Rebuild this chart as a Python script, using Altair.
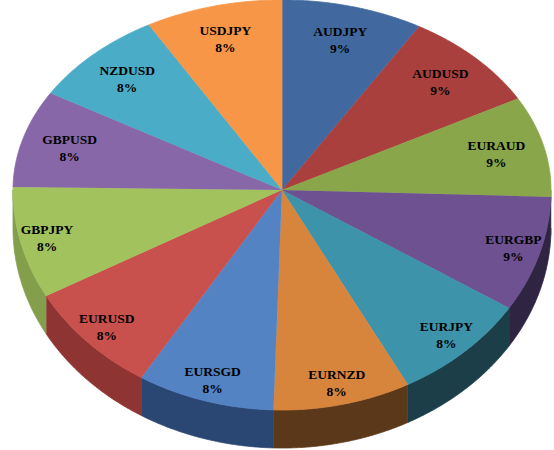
import altair as alt
import pandas as pd

# ---- data ----
pairs = ["AUDJPY", "AUDUSD", "EURAUD", "EURGBP", "EURJPY", "EURNZD",
         "EURSGD", "EURUSD", "GBPJPY", "GBPUSD", "NZDUSD", "USDJPY"]
shares = [8.5, 8.5, 8.5, 8.5, 8.25, 8.25, 8.25, 8.25, 8.25, 8.25, 8.25, 8.25]

top_colors = ["#41689F", "#A9403E", "#89A64A", "#6D5190", "#3C93AA", "#D7853D",
              "#5483C4", "#C8504D", "#A2C25E", "#8767A8", "#4AACC6", "#F79646"]
side_colors = ["#1E3350", "#5A2221", "#45552A", "#2F2442", "#1C3E48", "#5B3819",
               "#2A4672", "#8E3432", "#839F4B", "#6A5187", "#3A8BA0", "#C9763A"]

df = pd.DataFrame({"pair": pairs, "share": shares, "idx": list(range(len(pairs)))})

N = 96          # outline resolution
K_LOW = 1.158   # perspective: front half of the disc is taller
DEPTH = 0.2     # thickness of the disc

xs = alt.Scale(domain=[-1.0483, 1.0112], nice=False, zero=False)
ys = alt.Scale(domain=[-1.3684, 1.0], nice=False, zero=False)

base = alt.Chart(df).transform_joinaggregate(
    total="sum(share)"
).transform_window(
    cum="sum(share)", sort=[alt.SortField("idx", order="ascending")], frame=[None, 0]
).transform_calculate(
    a0="2*PI*(datum.cum - datum.share)/datum.total",
    a1="2*PI*datum.cum/datum.total",
)

# side walls (front half only)
side = base.transform_filter(
    "datum.a1 > PI/2 && datum.a0 < 3*PI/2"
).transform_calculate(
    s0="max(datum.a0, PI/2)",
    s1="min(datum.a1, 3*PI/2)",
    k=f"sequence(0, {2 * N + 2})",
).transform_flatten(["k"]).transform_calculate(
    j=f"datum.k <= {N} ? datum.k : {2 * N + 1} - datum.k"
).transform_calculate(
    a=f"datum.s0 + (datum.s1 - datum.s0) * datum.j / {N}"
).transform_calculate(
    u="sin(datum.a)",
    v=f"{K_LOW}*cos(datum.a) - (datum.k > {N} ? {DEPTH} : 0)",
).mark_line(filled=True, strokeWidth=0.8, interpolate="linear").encode(
    x=alt.X("u:Q", scale=xs, axis=None),
    y=alt.Y("v:Q", scale=ys, axis=None),
    color=alt.Color("pair:N", scale=alt.Scale(domain=pairs, range=side_colors), legend=None),
    stroke=alt.Stroke("pair:N", scale=alt.Scale(domain=pairs, range=side_colors), legend=None),
    order=alt.Order("k:Q"),
)

# top faces
top = base.transform_calculate(
    k=f"sequence(0, {N + 2})"
).transform_flatten(["k"]).transform_calculate(
    a=f"datum.a0 + (datum.a1 - datum.a0) * min(datum.k, {N}) / {N}"
).transform_calculate(
    u=f"datum.k > {N} ? 0 : sin(datum.a)",
    v=f"datum.k > {N} ? 0 : (cos(datum.a) > 0 ? cos(datum.a) : {K_LOW} * cos(datum.a))",
).mark_line(filled=True, strokeWidth=0.8, interpolate="linear").encode(
    x=alt.X("u:Q", scale=xs, axis=None),
    y=alt.Y("v:Q", scale=ys, axis=None),
    color=alt.Color("pair:N", scale=alt.Scale(domain=pairs, range=top_colors), legend=None),
    stroke=alt.Stroke("pair:N", scale=alt.Scale(domain=pairs, range=top_colors), legend=None),
    order=alt.Order("k:Q"),
)

labels = base.transform_calculate(
    m="(datum.a0 + datum.a1)/2"
).transform_calculate(
    u="(cos(datum.m) > 0 ? 0.82 : 0.9) * sin(datum.m)",
    v=f"cos(datum.m) > 0 ? 0.82*cos(datum.m) : 0.9*{K_LOW}*cos(datum.m)",
    label="datum.pair + '\\n' + round(datum.share) + '%'",
).mark_text(
    font="Liberation Serif", fontWeight="bold", fontSize=13.5,
    lineBreak="\n", lineHeight=17, color="black", baseline="middle", align="center", dy=-8,
).encode(
    x=alt.X("u:Q", scale=xs, axis=None),
    y=alt.Y("v:Q", scale=ys, axis=None),
    text="label:N",
)

chart = alt.layer(side, top, labels).resolve_scale(
    color="independent", stroke="independent"
).properties(
    width=554, height=450, padding=0, autosize="none"
).configure_view(stroke=None)

chart.save("out.html", embed_options={"renderer": "svg", "actions": False})
